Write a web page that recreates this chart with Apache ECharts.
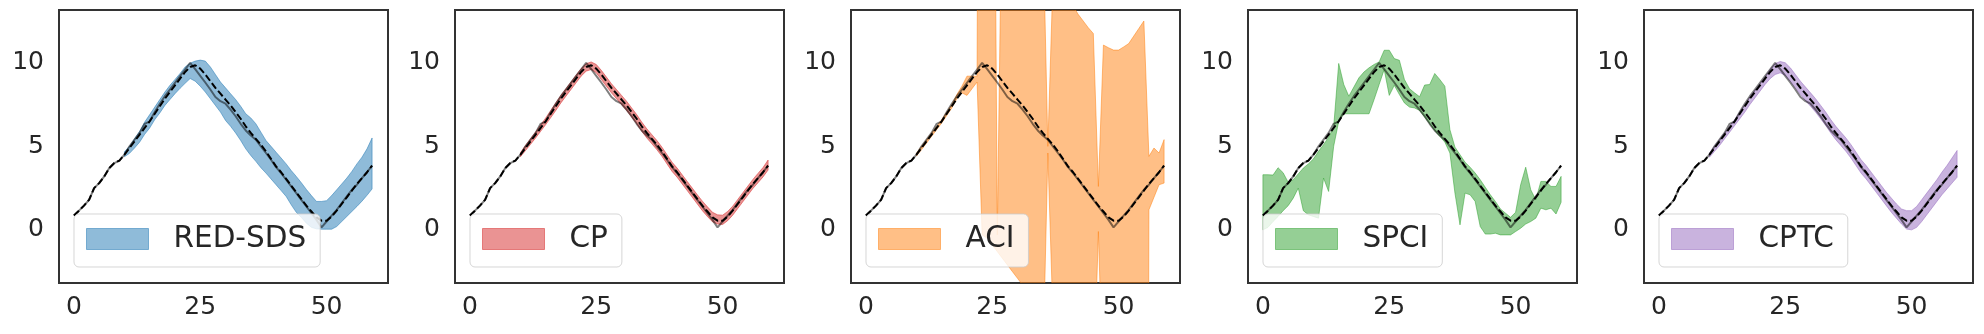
<!DOCTYPE html>
<html>
<head>
<meta charset="utf-8">
<script src="https://cdn.jsdelivr.net/npm/echarts@6.0.0/dist/echarts.min.js"></script>
<style>
  html, body { margin: 0; padding: 0; background: #fff; }
  #chart { width: 1984px; height: 334px; }
</style>
</head>
<body>
<div id="chart"></div>
<script>
// time steps
const xs = [0, 1, 2, 3, 4, 5, 6, 7, 8, 9, 10, 11, 12, 13, 14, 15, 16, 17, 18, 19,
  20, 21, 22, 23, 24, 25, 26, 27, 28, 29, 30, 31, 32, 33, 34, 35, 36, 37, 38, 39,
  40, 41, 42, 43, 44, 45, 46, 47, 48, 49, 50, 51, 52, 53, 54, 55, 56, 57, 58, 59];

// ground truth (grey) and prediction (black dashed)
const truth = [0.86, 1.15, 1.45, 1.8, 2.5, 2.8, 3.2, 3.7, 4.0, 4.15,
  4.5, 5.0, 5.4, 5.8, 6.35, 6.5, 7.05, 7.55, 8.0, 8.4,
  8.8, 9.2, 9.6, 10.0, 9.62, 9.22, 8.82, 8.4, 7.95, 7.7,
  7.55, 7.2, 6.8, 6.35, 5.95, 5.65, 5.4, 5.0, 4.6, 4.2,
  3.75, 3.4, 3.0, 2.6, 2.2, 1.8, 1.4, 1.0, 0.6, 0.15,
  0.5, 0.85, 1.2, 1.6, 2.0, 2.4, 2.7, 3.1, 3.45, 3.85];
const pred = [0.86, 1.15, 1.45, 1.8, 2.5, 2.8, 3.2, 3.7, 4.0, 4.15,
  4.5, 4.9, 5.3, 5.7, 6.1, 6.5, 6.95, 7.4, 7.85, 8.25,
  8.65, 9.05, 9.45, 9.75, 9.85, 9.65, 9.3, 8.9, 8.5, 8.15,
  7.8, 7.45, 7.05, 6.65, 6.2, 5.8, 5.45, 5.1, 4.7, 4.25,
  3.8, 3.45, 3.05, 2.65, 2.25, 1.85, 1.45, 1.1, 0.75, 0.55,
  0.55, 0.8, 1.15, 1.55, 1.95, 2.35, 2.75, 3.1, 3.45, 3.85];

const n = null;
// interval bounds per method
const redSdsLo = [n, n, n, n, n, n, n, n, n, n,
  4.38, 4.58, 4.9, 5.25, 5.72, 6.1, 6.6, 7.0, 7.45, 7.8,
  8.15, 8.47, 8.77, 9.06, 8.9, 8.6, 8.25, 7.85, 7.45, 7.05,
  6.55, 6.2, 5.8, 5.35, 4.85, 4.45, 4.1, 3.72, 3.4, 3.05,
  2.7, 2.35, 2.0, 1.5, 1.05, 0.75, 0.4, 0.15, 0.06, 0.04,
  0.04, 0.04, 0.2, 0.5, 0.8, 1.1, 1.4, 1.72, 2.07, 2.45];
const redSdsHi = [n, n, n, n, n, n, n, n, n, n,
  4.68, 5.0, 5.45, 5.9, 6.45, 6.9, 7.35, 7.8, 8.25, 8.65,
  9.0, 9.36, 9.75, 9.98, 10.1, 10.16, 10.1, 9.75, 9.3, 8.85,
  8.5, 8.15, 7.8, 7.4, 6.95, 6.7, 6.35, 5.85, 5.35, 5.0,
  4.65, 4.3, 3.95, 3.55, 3.2, 2.82, 2.42, 2.05, 1.7, 1.7,
  1.75, 2.05, 2.4, 2.75, 3.1, 3.5, 3.95, 4.35, 4.85, 5.5];

const cpLo = [n, n, n, n, n, n, n, n, n, n,
  4.38, 4.75, 5.12, 5.5, 5.9, 6.3, 6.72, 7.15, 7.6, 8.0,
  8.4, 8.8, 9.2, 9.5, 9.6, 9.4, 9.0, 8.6, 8.2, 7.85,
  7.5, 7.15, 6.75, 6.35, 5.9, 5.5, 5.15, 4.8, 4.4, 3.95,
  3.5, 3.15, 2.75, 2.35, 1.95, 1.55, 1.15, 0.8, 0.48, 0.35,
  0.32, 0.55, 0.88, 1.28, 1.68, 2.08, 2.48, 2.82, 3.17, 3.58];
const cpHi = [n, n, n, n, n, n, n, n, n, n,
  4.62, 5.05, 5.45, 5.85, 6.28, 6.7, 7.15, 7.6, 8.05, 8.45,
  8.85, 9.25, 9.65, 9.95, 10.05, 9.9, 9.55, 9.15, 8.75, 8.4,
  8.05, 7.7, 7.3, 6.9, 6.45, 6.05, 5.7, 5.35, 4.95, 4.5,
  4.05, 3.7, 3.3, 2.9, 2.5, 2.1, 1.72, 1.38, 1.05, 0.9,
  0.88, 1.1, 1.42, 1.82, 2.22, 2.62, 3.02, 3.38, 3.73, 4.18];

const aciLo = [n, n, n, n, n, n, n, n, n, n,
  4.42, 4.8, 5.2, 5.6, 6.0, 6.4, 6.85, 7.3, 7.85, 8.2,
  8.05, 8.45, 8.85, -0.3, -0.5, -0.9, -1.3, -1.7, -2.1, -2.5,
  -2.9, -3.3, -5, -7, -8, -8.4, 4.6, -5.15, -20, -20,
  -20, -20, -20, -20, -20, -10, -0.1, -10.4, -20, -20,
  -20, -20, -20, -20, -20, -100, 1.2, 1.95, 2.7, 2.8];
const aciHi = [n, n, n, n, n, n, n, n, n, n,
  4.58, 5.0, 5.4, 5.8, 6.2, 6.6, 7.05, 7.5, 8.1, 8.6,
  9.2, 9.2, 9.2, 100, 100, 45, -0.3, 22.4, 40, 40,
  40, 40, 40, 40, 40, 18.7, 5.0, 14.9, 16, 15,
  14, 13.4, 12.9, 12.5, 12.1, 11.75, 2.6, 11.06, 10.9, 10.76,
  10.76, 10.95, 11.15, 11.6, 12.05, 12.5, 4.4, 4.9, 4.6, 5.4];

const spciLo = [0.0, 0.15, 0.5, 0.8, 1.15, 1.45, 1.9, 2.5, 1.15, 0.9,
  0.8, 0.7, 3.1, 2.3, 5.0, 6.5, 6.95, 6.95, 6.95, 6.95,
  6.95, 6.95, 7.8, 8.7, 9.6, 8.05, 8.65, 8.1, 7.6, 7.35,
  7.3, 7.15, 6.75, 6.35, 5.95, 5.6, 5.25, 4.6, 2.2, 0.3,
  2.2, 2.1, 1.7, 0.2, -0.25, -0.25, -0.2, -0.3, -0.3, -0.3,
  -0.1, 0.1, 0.35, 0.5, 0.7, 1.3, 1.2, 1.3, 0.95, 1.65];
const spciHi = [3.3, 3.3, 3.28, 3.72, 3.42, 2.85, 3.0, 3.35, 3.7, 3.95,
  4.25, 4.7, 5.1, 5.55, 6.15, 9.96, 8.7, 8.0, 8.55, 9.1,
  9.45, 9.7, 9.9, 10.05, 10.75, 10.75, 10.25, 10.15, 9.0, 8.45,
  8.2, 7.97, 8.67, 8.7, 9.36, 9.0, 8.6, 6.0, 4.95, 4.5,
  4.05, 3.75, 3.4, 3.0, 2.55, 2.1, 1.7, 1.25, 1.0, 0.75,
  1.05, 2.7, 3.75, 2.4, 1.8, 2.9, 2.9, 2.6, 2.6, 3.2];

const cptcLo = [n, n, n, n, n, n, n, n, n, n,
  4.35, 4.7, 5.05, 5.45, 5.85, 6.25, 6.65, 7.05, 7.5, 7.9,
  8.3, 8.7, 9.05, 9.3, 9.4, 9.25, 8.9, 8.5, 8.1, 7.75,
  7.4, 7.05, 6.65, 6.25, 5.8, 5.4, 5.05, 4.7, 4.3, 3.85,
  3.4, 3.05, 2.65, 2.25, 1.85, 1.45, 1.05, 0.7, 0.35, 0.05,
  0.0, 0.15, 0.5, 0.9, 1.3, 1.7, 2.1, 2.45, 2.8, 3.15];
const cptcHi = [n, n, n, n, n, n, n, n, n, n,
  4.6, 5.0, 5.4, 5.8, 6.2, 6.6, 7.05, 7.5, 7.95, 8.35,
  8.75, 9.15, 9.6, 9.95, 10.08, 10.0, 9.7, 9.3, 8.9, 8.55,
  8.2, 7.85, 7.45, 7.05, 6.6, 6.2, 5.85, 5.5, 5.1, 4.65,
  4.2, 3.85, 3.45, 3.05, 2.65, 2.25, 1.9, 1.55, 1.25, 1.15,
  1.15, 1.4, 1.8, 2.2, 2.6, 3.0, 3.45, 3.85, 4.3, 4.75];

const xTicks = [0, 25, 50];
const yTicks = [0, 5, 10];

const bands = [
  { name: 'RED-SDS', lo: redSdsLo, hi: redSdsHi, fill: 'rgba(31,119,180,0.5)' },
  { name: 'CP', lo: cpLo, hi: cpHi, fill: 'rgba(214,39,40,0.5)' },
  { name: 'ACI', lo: aciLo, hi: aciHi, fill: 'rgba(255,127,14,0.5)' },
  { name: 'SPCI', lo: spciLo, hi: spciHi, fill: 'rgba(44,160,44,0.5)' },
  { name: 'CPTC', lo: cptcLo, hi: cptcHi, fill: 'rgba(148,103,189,0.5)' }
];

const panelLeft = [59, 455, 851, 1248, 1644];
const font = 'DejaVu Sans';
const textColor = '#262626';

function pairs(ys) {
  return xs.map((x, k) => [x, ys[k]]);
}

// fill_between: upper bound left->right, lower bound right->left, one polygon
function bandItem(b) {
  return function (params, api) {
    const upper = [];
    const lower = [];
    xs.forEach((x, k) => {
      if (b.lo[k] == null) return;
      upper.push(api.coord([x, b.hi[k]]));
      lower.unshift(api.coord([x, b.lo[k]]));
    });
    return {
      type: 'polygon',
      shape: { points: upper.concat(lower) },
      style: { fill: b.fill, stroke: b.fill, lineWidth: 1 }
    };
  };
}

const series = [];
bands.forEach((b, i) => {
  const first = b.lo.findIndex(v => v != null);
  series.push({
    name: b.name, type: 'custom', xAxisIndex: i, yAxisIndex: i,
    data: [[xs[first], b.lo[first]]],
    renderItem: bandItem(b),
    clip: true, silent: true, z: 2,
    itemStyle: { color: b.fill }
  });
  series.push({
    name: 'truth ' + i, type: 'line', xAxisIndex: i, yAxisIndex: i,
    data: pairs(truth), symbol: 'none', silent: true, z: 3,
    lineStyle: { color: '#000', opacity: 0.5, width: 2 }
  });
  series.push({
    name: 'pred ' + i, type: 'line', xAxisIndex: i, yAxisIndex: i,
    data: pairs(pred), symbol: 'none', silent: true, z: 4,
    lineStyle: { color: '#000', width: 2, type: [7, 3] }
  });
});

const option = {
  animation: false,
  backgroundColor: '#fff',
  grid: panelLeft.map(l => ({
    left: l, top: 10, width: 329, height: 273,
    show: true, borderColor: '#333', borderWidth: 2,
    containLabel: false, outerBoundsMode: 'none'
  })),
  xAxis: panelLeft.map((l, i) => ({
    gridIndex: i, type: 'value', min: -2.95, max: 62.15,
    axisLine: { show: false }, axisTick: { show: false }, splitLine: { show: false },
    axisLabel: { customValues: xTicks, fontSize: 25, fontFamily: font, color: textColor, margin: 12 }
  })),
  yAxis: panelLeft.map((l, i) => ({
    gridIndex: i, type: 'value', min: -3.18, max: 13.16,
    axisLine: { show: false }, axisTick: { show: false }, splitLine: { show: false },
    axisLabel: { customValues: yTicks, fontSize: 25, fontFamily: font, color: textColor, margin: 15 }
  })),
  legend: bands.map((b, i) => ({
    data: [{
      name: b.name, icon: 'rect',
      itemStyle: { color: b.fill, borderColor: b.fill, borderWidth: 1, opacity: 1 }
    }],
    left: panelLeft[i] + 15, top: 214,
    padding: [10, 14, 13, 12],
    itemWidth: 62, itemHeight: 21,
    backgroundColor: 'rgba(255,255,255,0.8)',
    borderColor: 'rgba(204,204,204,0.8)', borderWidth: 1, borderRadius: 5,
    selectedMode: false,
    textStyle: { fontFamily: font, fontSize: 29.5, color: textColor, lineHeight: 30, padding: [0, 0, 0, 20] },
    z: 10
  })),
  series: series
};

const chart = echarts.init(document.getElementById('chart'));
chart.setOption(option);
</script>
</body>
</html>
